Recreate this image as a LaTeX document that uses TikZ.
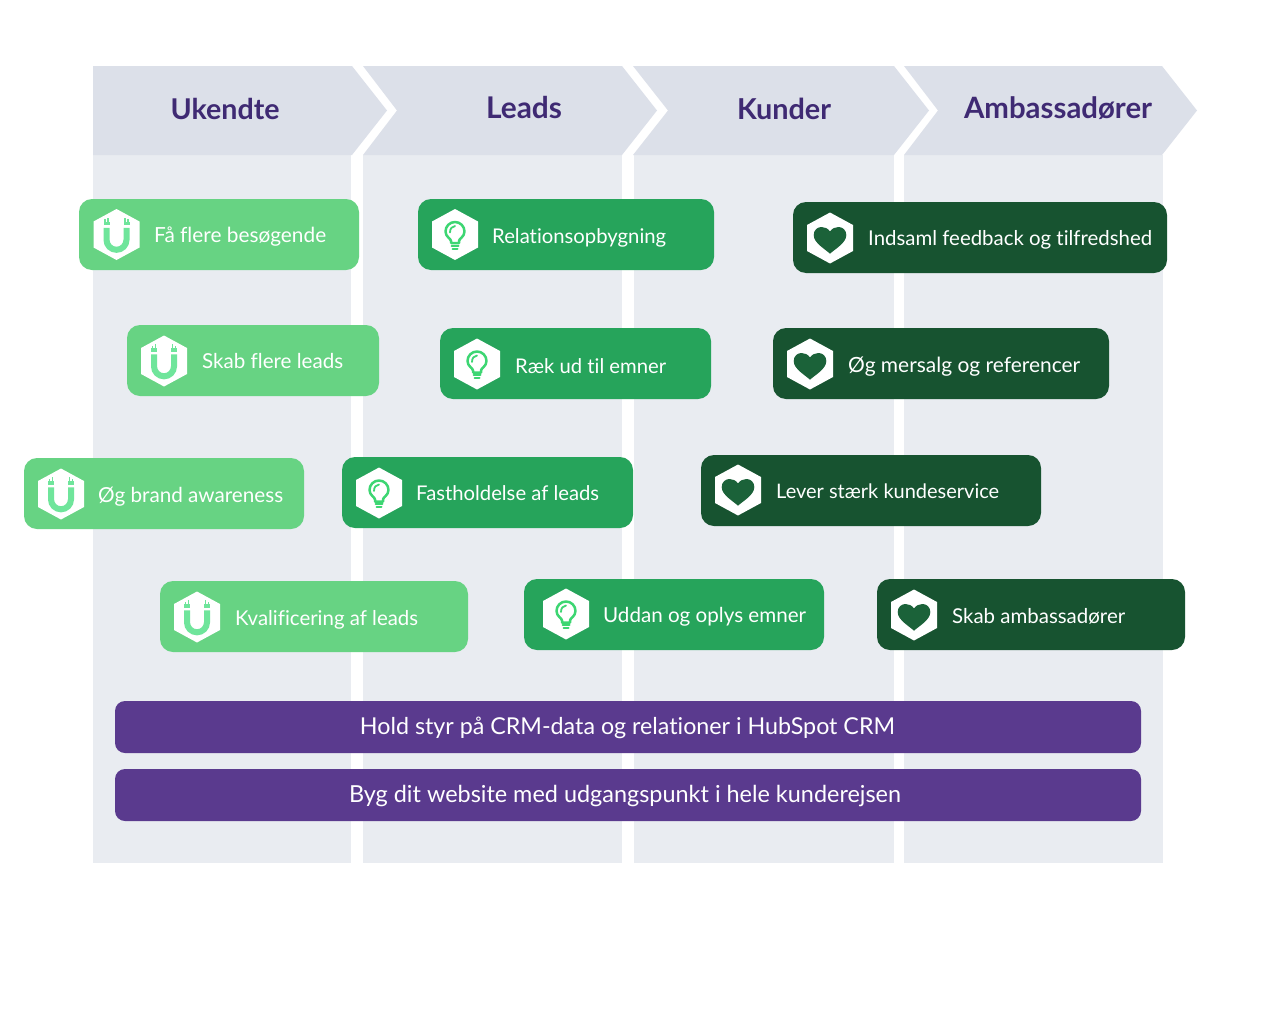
\documentclass[tikz,border=0pt]{standalone}
\usepackage{fontspec}
\setmainfont[Ligatures=NoCommon]{Lato}
\usepackage{graphicx}
\definecolor{headbg}{HTML}{DCE0E9}
\definecolor{colbg}{HTML}{E9ECF1}
\definecolor{headtxt}{HTML}{3F2A73}
\definecolor{lightg}{HTML}{67D383}
\definecolor{midg}{HTML}{26A45B}
\definecolor{darkg}{HTML}{175330}
\definecolor{purp}{HTML}{5A3A8E}
\definecolor{magnetc}{HTML}{6FE59B}
\definecolor{bulbc}{HTML}{3DD672}
\definecolor{heartc}{HTML}{1B6239}
\tikzset{
  x=1pt,y=-1pt,
  chev/.style={fill=headbg,draw=none},
  col/.style={fill=colbg,draw=none},
  hexfill/.style={fill=white,draw=none},
  boxlabel/.style={anchor=base west,inner sep=0pt,text=white,font=\fontsize{21}{24}\selectfont},
  barlabel/.style={anchor=base,inner sep=0pt,text=white,font=\fontsize{24}{28}\selectfont},
  headlabel/.style={anchor=base,inner sep=0pt,text=headtxt,font=\bfseries\fontsize{28}{32}\selectfont},
  cardbox/.style={rounded corners=13pt,draw=none},
  barbox/.style={rounded corners=10pt,draw=none,fill=purp},
  magnetline/.style={draw=magnetc,line width=6pt,line cap=butt},
  bulbline/.style={draw=bulbc,line width=2.5pt,line cap=round,line join=round},
}
\newcommand{\hexa}[2]{\fill[hexfill] (#1,#2-25.5) -- (#1+23,#2-13) -- (#1+23,#2+13) -- (#1,#2+25.5) -- (#1-23,#2+13) -- (#1-23,#2-13) -- cycle;}
\newcommand{\magnet}[2]{\hexa{#1}{#2}
  \begin{scope}[shift={(#1,#2)}]
    \draw[magnetline] (-10,-6.7) -- (-10,5.3) arc[start angle=180,end angle=360,radius=10,y radius=-10] -- (10,-6.7);
    \fill[magnetc] (-13,-12.7) rectangle (-7,-9.3);
    \fill[magnetc] (7,-12.7) rectangle (13,-9.3);
    \draw[magnetc,line width=1.4pt] (-11.5,-13) -- (-11.5,-15.5) (-8.5,-13) -- (-8.5,-17)
      (8.5,-13) -- (8.5,-17) (11.5,-13) -- (11.5,-15.5);
  \end{scope}}
\newcommand{\bulb}[2]{\hexa{#1}{#2}
  \begin{scope}[shift={(#1,#2)}]
    \draw[bulbline] (-4,8.5) -- (-4,6.5) .. controls (-4,4) and (-9.5,2.5) .. (-9.5,-3) arc[start angle=180,end angle=0,radius=9.5,y radius=-9.5] .. controls (9.5,2.5) and (4,4) .. (4,6.5) -- (4,8.5) -- cycle;
    \draw[bulbline,line width=1.8pt] (-5,-2) .. controls (-5,-6) and (-3,-8) .. (0,-8.5);
    \draw[bulbline,line width=2pt] (-3.5,11.3) -- (3.5,11.3) (-2.5,14.2) -- (2.5,14.2);
  \end{scope}}
\newcommand{\hearticon}[2]{\hexa{#1}{#2}
  \begin{scope}[shift={(#1,#2)}]
    \fill[heartc] (0,15.7) .. controls (-5,11) and (-16.3,5) .. (-16.3,-3) .. controls (-16.3,-8) and (-12.5,-11) .. (-8.5,-11) .. controls (-5,-11) and (-2,-9.5) .. (0,-6.5) .. controls (2,-9.5) and (5,-11) .. (8.5,-11) .. controls (12.5,-11) and (16.3,-8) .. (16.3,-3) .. controls (16.3,5) and (5,11) .. (0,15.7) -- cycle;
  \end{scope}}
\newcommand{\card}[9]{\fill[cardbox,#2] (#3,#4) rectangle (#5,#6); #7{#8}{#9}}
\newcommand{\lab}[5]{\node[boxlabel] (#1) at (#2,#3) {\resizebox{#4pt}{!}{#5}};}
\begin{document}
\begin{tikzpicture}
\useasboundingbox (0,0) rectangle (1264,1012);
\fill[white] (0,0) rectangle (1264,1012);
% columns
\fill[col] (93,155) rectangle (351,863);
\fill[col] (363,155) rectangle (622,863);
\fill[col] (634,155) rectangle (894,863);
\fill[col] (904,155) rectangle (1163,863);
% chevrons
\fill[chev] (93,66) -- (352,66) -- (387,110.5) -- (352,155) -- (93,155) -- cycle;
\fill[chev] (363,66) -- (622,66) -- (657,110.5) -- (622,155) -- (363,155) -- (397,110.5) -- cycle;
\fill[chev] (633,66) -- (894,66) -- (929,110.5) -- (894,155) -- (633,155) -- (668,110.5) -- cycle;
\fill[chev] (904,66) -- (1162,66) -- (1197,110.5) -- (1162,155) -- (904,155) -- (938,110.5) -- cycle;
\node[headlabel] (h1) at (225,119) {\resizebox{109pt}{!}{Ukendte}};
\node[headlabel] (h2) at (524,118) {\resizebox{76pt}{!}{Leads}};
\node[headlabel] (h3) at (784,119) {\resizebox{94pt}{!}{Kunder}};
\node[headlabel] (h4) at (1058,118) {\resizebox{188pt}{!}{Ambassadører}};
% light green
\card{a1}{lightg}{79}{199}{359}{270}{\magnet}{116.5}{234.5}
\lab{ta1}{154}{242}{172}{Få flere besøgende}
\card{a2}{lightg}{127}{325}{379}{396}{\magnet}{164}{361}
\lab{ta2}{202}{368}{141}{Skab flere leads}
\card{a3}{lightg}{24}{458}{304}{529}{\magnet}{61}{494}
\lab{ta3}{98}{502}{185}{Øg brand awareness}
\card{a4}{lightg}{160}{581}{468}{652}{\magnet}{197}{617}
\lab{ta4}{235}{625}{183}{Kvalificering af leads}
% mid green
\card{b1}{midg}{418}{199}{714}{270}{\bulb}{455}{234.5}
\lab{tb1}{492}{243}{174}{Relationsopbygning}
\card{b2}{midg}{440}{328}{711}{399}{\bulb}{477}{364}
\lab{tb2}{515}{373}{151}{Ræk ud til emner}
\card{b3}{midg}{342}{457}{633}{528}{\bulb}{379}{493}
\lab{tb3}{416}{500}{183}{Fastholdelse af leads}
\card{b4}{midg}{524}{579}{824}{650}{\bulb}{566}{614}
\lab{tb4}{603}{622}{203}{Uddan og oplys emner}
% dark green
\card{c1}{darkg}{793}{202}{1167}{273}{\hearticon}{830}{238}
\lab{tc1}{868}{245}{284}{Indsaml feedback og tilfredshed}
\card{c2}{darkg}{773}{328}{1109}{399}{\hearticon}{810}{364}
\lab{tc2}{848}{372}{232}{Øg mersalg og referencer}
\card{c3}{darkg}{701}{455}{1041}{526}{\hearticon}{738}{490}
\lab{tc3}{776}{498}{223}{Lever stærk kundeservice}
\card{c4}{darkg}{877}{579}{1185}{650}{\hearticon}{914}{615}
\lab{tc4}{952}{623}{173}{Skab ambassadører}
% bars
\node[barbox,minimum width=1026pt,minimum height=52pt,inner sep=0pt] (bar1) at (628,727) {};
\node[barbox,minimum width=1026pt,minimum height=52pt,inner sep=0pt] (bar2) at (628,795) {};
\node[barlabel] (tbar1) at (627.5,734) {\resizebox{535pt}{!}{Hold styr på CRM-data og relationer i HubSpot CRM}};
\node[barlabel] (tbar2) at (625,802) {\resizebox{552pt}{!}{Byg dit website med udgangspunkt i hele kunderejsen}};
\end{tikzpicture}
\end{document}
